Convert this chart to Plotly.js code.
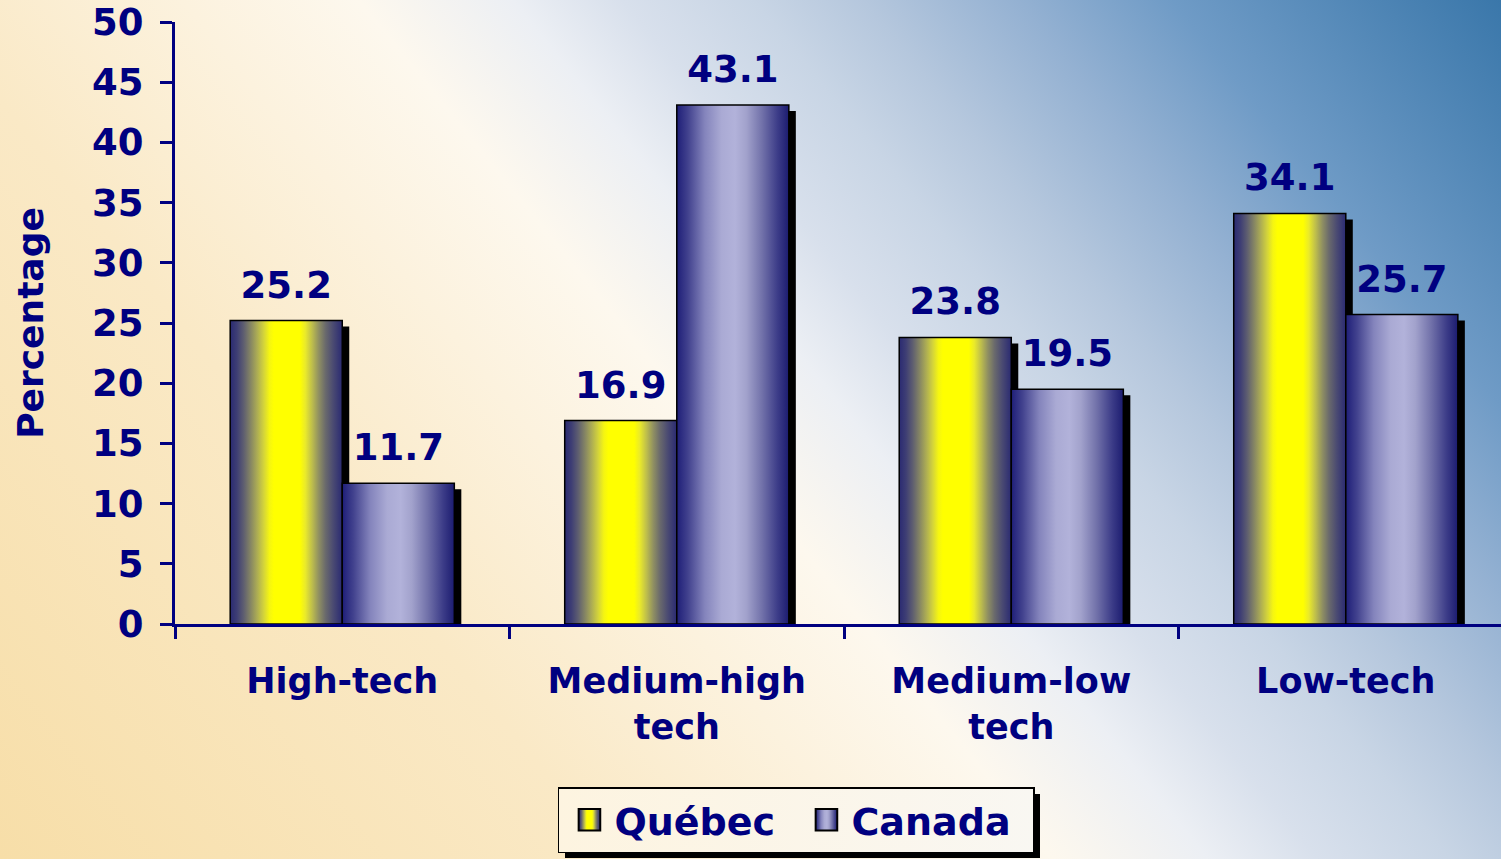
<!DOCTYPE html>
<html>
<head>
<meta charset="utf-8">
<script src="https://cdn.plot.ly/plotly-3.0.1.min.js"></script>
<style>
  html, body { margin:0; padding:0; width:1501px; height:859px; overflow:hidden; }
  body {
    background: linear-gradient(51deg,
      #f7dea8 0%, #fae9c6 28%, #fcf2de 40%, #fdf8ee 48%, #eceff4 55%,
      #d8e0ec 60%, #c8d5e5 66%, #b5c7dd 71%, #94b1d2 78%, #6f9bc6 85%, #3a77aa 100%);
  }
  #chart { width:1501px; height:859px; }
</style>
</head>
<body>
<svg width="0" height="0" style="position:absolute">
  <defs>
    <linearGradient id="gq" x1="0" y1="0" x2="1" y2="0">
      <stop offset="0" stop-color="#2a2a72"/>
      <stop offset="0.06" stop-color="#3e3e74"/>
      <stop offset="0.12" stop-color="#5e5e70"/>
      <stop offset="0.18" stop-color="#848464"/>
      <stop offset="0.24" stop-color="#acac54"/>
      <stop offset="0.30" stop-color="#d4d43a"/>
      <stop offset="0.35" stop-color="#f5f512"/>
      <stop offset="0.39" stop-color="#ffff00"/>
      <stop offset="0.62" stop-color="#ffff00"/>
      <stop offset="0.67" stop-color="#eaea2a"/>
      <stop offset="0.73" stop-color="#bebe4c"/>
      <stop offset="0.79" stop-color="#909062"/>
      <stop offset="0.85" stop-color="#6a6a6c"/>
      <stop offset="0.92" stop-color="#4a4a72"/>
      <stop offset="1" stop-color="#2a2a72"/>
    </linearGradient>
    <linearGradient id="gc" x1="0" y1="0" x2="1" y2="0">
      <stop offset="0" stop-color="#1e1e78"/>
      <stop offset="0.10" stop-color="#42428e"/>
      <stop offset="0.25" stop-color="#8484bc"/>
      <stop offset="0.40" stop-color="#aaaad4"/>
      <stop offset="0.52" stop-color="#b2b2da"/>
      <stop offset="0.62" stop-color="#a2a2cc"/>
      <stop offset="0.76" stop-color="#7272aa"/>
      <stop offset="0.90" stop-color="#3c3c88"/>
      <stop offset="1" stop-color="#1c1c70"/>
    </linearGradient>
    <linearGradient id="gl" x1="0" y1="0" x2="1" y2="0">
      <stop offset="0" stop-color="#fdf4e0"/>
      <stop offset="1" stop-color="#f9f7f2"/>
    </linearGradient>
  </defs>
</svg>
<div id="chart"></div>
<script>
// ---- data ----
const categories = ["High-tech", "Medium-high<br>tech", "Medium-low<br>tech", "Low-tech"];
const quebecValues = [25.2, 16.9, 23.8, 34.1];
const canadaValues = [11.7, 43.1, 19.5, 25.7];
const seriesNames = ["Québec", "Canada"];
const yTickValues = [0, 5, 10, 15, 20, 25, 30, 35, 40, 45, 50];

const NAVY = "#000080";
const FONT = "DejaVu Sans";

function barTrace(name, values, color) {
  return {
    type: "bar",
    name: name,
    x: categories,
    y: values,
    text: values.map(v => v.toFixed(1)),
    textposition: "outside",
    textfont: { family: FONT, size: 37, color: NAVY, weight: "bold" },
    marker: { color: color, line: { color: "#000000", width: 1.5 } },
    cliponaxis: true,
    hoverinfo: "skip"
  };
}

const data = [
  barTrace(seriesNames[0], quebecValues, "#ffff00"),
  barTrace(seriesNames[1], canadaValues, "#aaaad4")
];

const layout = {
  width: 1501,
  height: 859,
  margin: { l: 175, r: 0, t: 22, b: 235, autoexpand: false },
  paper_bgcolor: "rgba(0,0,0,0)",
  plot_bgcolor: "rgba(0,0,0,0)",
  barmode: "group",
  bargap: 0.33,
  bargroupgap: 0,
  font: { family: FONT, color: NAVY },
  showlegend: true,
  legend: {
    orientation: "h",
    x: 0.2888, xanchor: "left",
    y: -0.2708, yanchor: "top",
    bgcolor: "#fcf5e8",
    bordercolor: "#000000",
    borderwidth: 1.5,
    font: { family: FONT, size: 38, color: NAVY, weight: "bold" },
    itemwidth: 45,
    entrywidth: 177,
    traceorder: "normal"
  },
  xaxis: {
    type: "category",
    range: [-0.5, 3.464],
    tickson: "boundaries",
    ticks: "outside",
    ticklen: 12,
    tickwidth: 3,
    tickcolor: NAVY,
    showline: true,
    linecolor: NAVY,
    linewidth: 3,
    showgrid: false,
    zeroline: false,
    automargin: false,
    ticklabelstandoff: 24,
    tickfont: { family: FONT, size: 35, color: NAVY, weight: "bold" },
    fixedrange: true
  },
  yaxis: {
    range: [0, 50],
    tickvals: yTickValues,
    ticktext: yTickValues.map(String),
    ticks: "outside",
    ticklen: 12,
    tickwidth: 3,
    tickcolor: NAVY,
    showline: true,
    linecolor: NAVY,
    linewidth: 3,
    showgrid: false,
    zeroline: false,
    automargin: false,
    ticklabelstandoff: 9,
    tickfont: { family: FONT, size: 37, color: NAVY, weight: "bold" },
    title: { text: "Percentage", standoff: 38, font: { family: FONT, size: 36, color: NAVY, weight: "bold" } },
    fixedrange: true
  }
};

function post(gd) {
  const grads = ["url(#gq)", "url(#gc)"];
  gd.querySelectorAll(".barlayer .trace.bars").forEach((tg, i) => {
    tg.querySelectorAll("g.point").forEach(pt => {
      const p = pt.querySelector("path");
      if (!p) return;
      const sh = p.cloneNode(false);
      sh.setAttribute("transform", "translate(7,6)");
      sh.style.fill = "#000000";
      sh.style.fillOpacity = "1";
      sh.style.stroke = "none";
      pt.insertBefore(sh, p);
      p.style.fill = grads[i];
      const t = pt.querySelector("text.bartext");
      if (t) t.setAttribute("transform", (t.getAttribute("transform") || "") + " translate(0,-11)");
    });
  });
  gd.querySelectorAll(".legend .traces").forEach((tg, i) => {
    const p = tg.querySelector(".legendpoints path");
    const txt = tg.querySelector("text.legendtext");
    if (p) {
      const tx = txt ? parseFloat(txt.getAttribute("x")) || 55 : 55;
      p.style.fill = grads[i];
      p.style.stroke = "#000000";
      p.style.strokeWidth = "2px";
      p.setAttribute("vector-effect", "non-scaling-stroke");
      p.setAttribute("transform", "translate(" + (tx - 25) + ",0) scale(1.8)");
    }
  });
  const bg = gd.querySelector(".legend rect.bg");
  if (bg) {
    const sh = bg.cloneNode(false);
    sh.setAttribute("transform", "translate(6,6)");
    sh.style.fill = "#000000";
    sh.style.stroke = "none";
    bg.parentNode.insertBefore(sh, bg);
    bg.style.fill = "url(#gl)";
  }
}

Plotly.newPlot("chart", data, layout, { displayModeBar: false, staticPlot: true }).then(post);
</script>
</body>
</html>
